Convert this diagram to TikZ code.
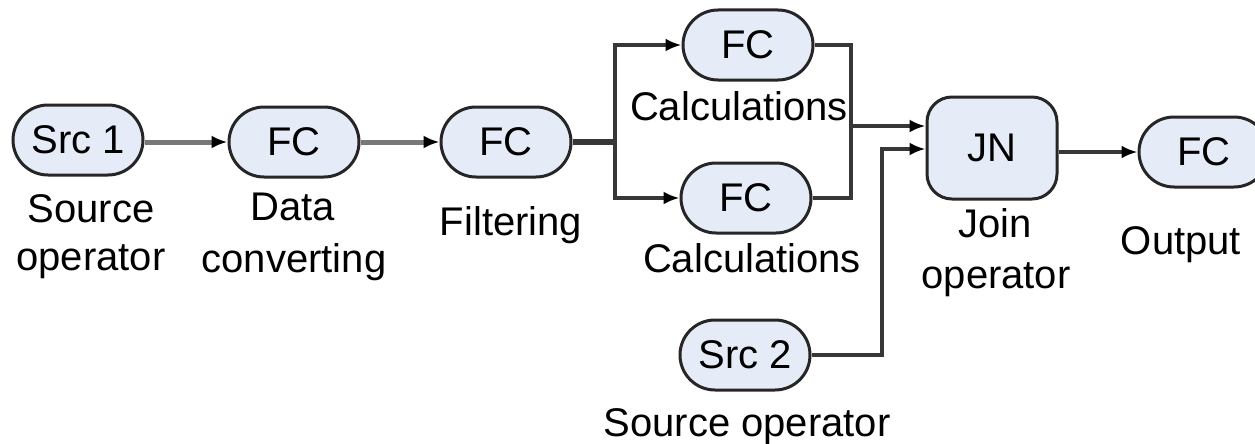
\documentclass[tikz,border=0pt]{standalone}
\usepackage{fontspec}
\setmainfont{Liberation Sans}
\usetikzlibrary{arrows.meta}
\definecolor{nodefill}{RGB}{230,236,247}
\definecolor{greyline}{RGB}{120,120,120}
\definecolor{darkline}{RGB}{55,55,55}
\tikzset{
  opbox/.style={draw=black!85, line width=3pt, fill=nodefill, minimum width=130pt, minimum height=70pt, rounded corners=35pt, inner sep=0pt, font=\fontsize{40pt}{48pt}\selectfont},
  joinbox/.style={opbox, minimum height=102pt, rounded corners=25pt},
  lbl/.style={anchor=base, inner sep=0pt, font=\fontsize{40pt}{48pt}\selectfont},
  tip/.style={-{Latex[length=16pt,width=13pt,color=black]}},
  gl/.style={draw=greyline, line width=5pt},
  dl/.style={draw=darkline, line width=4pt},
}
\begin{document}
\begin{tikzpicture}[x=1pt,y=-1pt]
\useasboundingbox (0,0) rectangle (1255,444);
\clip (0,0) rectangle (1255,444);
\node[opbox] (src1) at (78,140) {Src 1};
\node[opbox] (fc1) at (294,142) {FC};
\node[opbox] (fc2) at (506,142) {FC};
\node[opbox] (fc3) at (748,45) {FC};
\node[opbox] (fc4) at (746,198) {FC};
\node[joinbox] (jn) at (992,148) {JN};
\node[opbox] (src2) at (745,355) {Src 2};
\node[opbox] (fco) at (1204,152) {FC};
\coordinate (split) at (615,142);
\coordinate (merge) at (851,126);
\coordinate (knee) at (882,149);
% labels
\node[lbl] (l1a) at (91,222) {Source};
\node[lbl] (l1b) at (91,270) {operator};
\node[lbl] (l2a) at (293,220) {Data};
\node[lbl] (l2b) at (294,272) {converting};
\node[lbl] (l3) at (511,235) {Filtering};
\node[lbl] (l4) at (739,120) {Calculations};
\node[lbl] (l5) at (752,272) {Calculations};
\node[lbl] (l6) at (747,436) {Source operator};
\node[lbl] (l7a) at (995,237) {Join};
\node[lbl] (l7b) at (996,288) {operator};
\node[lbl] (l8) at (1181,254) {Output};
% connectors
\draw[gl, tip] (fc1.west -| src1.east) -- (fc1.west);
\draw[gl, tip] (fc1.east) -- (fc2.west);
\draw[draw=darkline, line width=6pt] (fc2.east) -- (split);
\draw[dl, tip] (split) |- (fc3.west);
\draw[dl, tip] (split) |- (fc4.west);
\draw[dl] (fc3.east) -| (merge);
\draw[dl] (fc4.east) -| (merge);
\draw[dl, tip] (merge) -- (merge -| jn.west);
\draw[dl, tip] (src2.east) -| (knee) -- (knee -| jn.west);
\draw[dl, tip] (jn.east |- fco.west) -- (fco.west);
\end{tikzpicture}
\end{document}
